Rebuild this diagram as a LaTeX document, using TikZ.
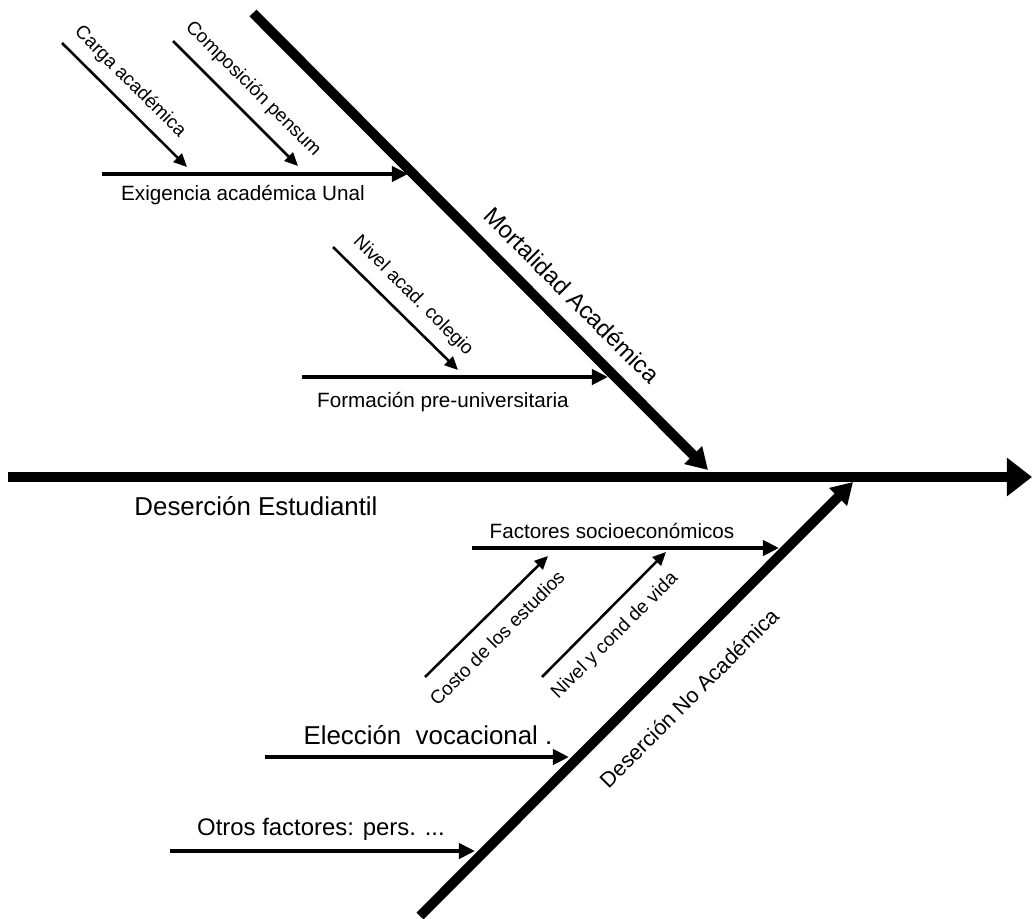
\documentclass[tikz,border=0pt]{standalone}
\usepackage{fontspec}
\setmainfont{Liberation Sans}
\usetikzlibrary{arrows.meta}

\tikzstyle{spine} = [line width=7.8pt, -{Triangle[length=17.8pt, width=26.3pt]}]
\tikzstyle{bone} = [line width=7pt, -{Triangle[length=15pt, width=17pt]}]
\tikzstyle{cause} = [line width=2.8pt, -{Triangle[length=11.4pt, width=10.7pt]}]
\tikzstyle{subcause} = [line width=1.8pt, -{Triangle[length=9.5pt, width=8.5pt]}]
\tikzstyle{causetext} = [inner sep=0pt, anchor=base, font=\fontsize{14.7}{17}\selectfont]
\tikzstyle{bigtext} = [inner sep=0pt, anchor=base, font=\fontsize{18.4}{21}\selectfont]
\tikzstyle{diagtext} = [inner sep=0pt, font=\fontsize{13.5}{16}\selectfont]
\tikzstyle{bonetext} = [inner sep=0pt, font=\fontsize{17}{20}\selectfont]

\begin{document}
\begin{tikzpicture}[x=0.025cm, y=-0.025cm]
			\useasboundingbox (0,0) rectangle (1032,919);

			\coordinate (spineA) at (8,477);
			\coordinate (spineB) at (1032,477);
			\coordinate (mortA) at (253,13);
			\coordinate (mortB) at (708,470);
			\coordinate (noacA) at (420,916);
			\coordinate (noacB) at (853,482);
			\coordinate (exigA) at (102,174);
			\coordinate (exigB) at (408,174);
			\coordinate (cargaA) at (62,43);
			\coordinate (cargaB) at (187,167);
			\coordinate (compA) at (173,41);
			\coordinate (compB) at (298,166);
			\coordinate (formA) at (302,377);
			\coordinate (formB) at (608,377);
			\coordinate (nivelA) at (333,247);
			\coordinate (nivelB) at (458,370);
			\coordinate (factA) at (472,548);
			\coordinate (factB) at (779,548);
			\coordinate (costoA) at (425,677);
			\coordinate (costoB) at (548,556);
			\coordinate (vidaA) at (542,677);
			\coordinate (vidaB) at (666,552);
			\coordinate (elecA) at (265,757);
			\coordinate (elecB) at (569,757);
			\coordinate (otrosA) at (170,851);
			\coordinate (otrosB) at (475,851);

			\node (desLbl) [bigtext] at (256,515) {Deserción Estudiantil};
			\node (exigLbl) [causetext] at (243,200) {Exigencia académica Unal};
			\node (formLbl) [causetext] at (443,407) {Formación pre-universitaria};
			\node (factLbl) [causetext] at (612,538) {Factores socioeconómicos};
			\node (elecLbl) [bigtext] at (428,744) {Elección \ vocacional .};
			\node (otrosLbl) [bonetext, anchor=base] at (321,835) {Otros factores: pers. ...};
			\node (cargaLbl) [diagtext, rotate=-45] at (130,82) {Carga académica};
			\node (compLbl) [diagtext, rotate=-45] at (253,89) {Composición pensum};
			\node (nivelLbl) [diagtext, rotate=-45] at (413,296) {Nivel acad. colegio};
			\node (mortLbl) [bonetext, rotate=-45] at (572,295) {Mortalidad Académica};
			\node (costoLbl) [diagtext, rotate=45] at (497,638) {Costo de los estudios};
			\node (vidaLbl) [diagtext, rotate=45] at (615,636) {Nivel y cond de vida};
			\node (noacLbl) [bonetext, rotate=45, font=\fontsize{15.3}{18}\selectfont] at (689,698) {Deserción No Académica};

			\draw [spine] (spineA) -- (spineB);
			\draw [bone] (mortA) -- (mortB);
			\draw [bone] (noacA) -- (noacB);
			\draw [cause] (exigA) -- (exigB);
			\draw [cause] (formA) -- (formB);
			\draw [cause] (factA) -- (factB);
			\draw [cause] (elecA) -- (elecB);
			\draw [cause] (otrosA) -- (otrosB);
			\draw [subcause] (cargaA) -- (cargaB);
			\draw [subcause] (compA) -- (compB);
			\draw [subcause] (nivelA) -- (nivelB);
			\draw [subcause] (costoA) -- (costoB);
			\draw [subcause] (vidaA) -- (vidaB);

		\end{tikzpicture}
\end{document}
